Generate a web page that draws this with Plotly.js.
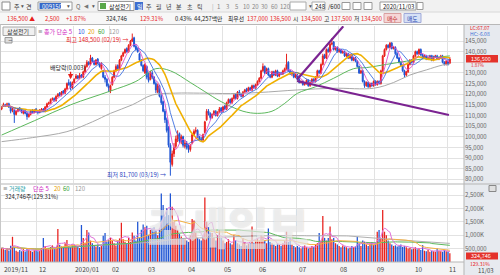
<!DOCTYPE html>
<html><head><meta charset="utf-8">
<script src="https://cdn.plot.ly/plotly-3.0.1.min.js"></script>
<style>html,body{margin:0;padding:0;background:#fff;}#chart{width:500px;height:275px;}</style>
</head><body><div id="chart"></div>
<script>
// ---------------- DATA (prices in thousand won, volume in thousand shares) ----------------
const monthLabels = ["2019/11","12","2020/01","02","03","04","05","06","07","08","09","10","11"];
const monthDays   = [20,20,20,20,22,20,19,22,23,20,21,19,2];

const openK = [
113,114.5,115,114.5,115.5,114,112.5,112.5,110.5,112,113.5,112.5,111,112,111,109.5,110.5,112.5,111.5,113,
112,111.5,112.5,113,112,114,115.5,116,117.5,118,117,119,120.5,119.5,121.5,120.5,122.5,125.5,125,123,
125.5,127.5,128.5,127.5,129,128,130.5,133,135,134,137,135.5,134,136.5,134.5,132,131,128,127,124,
121.5,124.5,128,131,133.5,132,136,138,139.5,141.5,140,143,145,146.5,142.5,141,139,136,133.5,130,
133,128,127,130,128,125,121,124,119,116.5,112,108,104,96,87,92,95.5,99,101.5,97.5,100,95.5,
97,95.5,94,97,101,102.5,103,100,99,98.5,102,108,112,111,109,110.5,112,110,111.5,113.5,
112,114.5,113,116,117.5,116,118,120,118,121,120,119,121,122.5,121.5,123,122,124,123,
124.5,126,127.5,131,133,130,132,129,128,130.5,129,131,128.5,130,129.5,131,132,135,131,129.5,130,128,
129,127,125.5,126,124.5,125,126.5,124,125.5,127,126,128,131,130,134,138.5,137,141,140,143.5,144.5,141,142,
140,141,139.5,140,138,139,137,138.5,136,137,135.5,133,130,131,126,124,125.5,123.5,125,124,
126,124.5,126,125,131,138,141,143,142,144,141.5,142,139,137,135,133.5,131,129,130.5,134,136,
135,138,140,139,141,138.5,137,138,136.5,137,138,136,137.5,138,136.5,137,138,135,134,
135.5,134.5];
const highK = [
114.5,116,115.5,116,116,114.5,113.5,113,112.5,113.5,114,113,112.5,112.5,111.5,111,112.5,113,113,113.5,
112.5,113,113.5,113.5,114.5,116,116.5,118,118.5,118.5,119.5,120.5,121,121.5,122,123,125.5,127,126,126,
127.5,129.5,129,130,129.5,131,134,136,135.5,138.5,137.5,136,136.5,137,135,135,131.5,129,127.5,125,
124.5,128.5,131.5,134,134,136.5,138.5,140,141.5,142,143.5,145.5,148.5,147,143.5,142,139.5,136.5,134,134.5,
133.5,130,131,131,128.5,126,125,124.5,120,117,113,109,105,97,93.5,97,100.5,103,102,101,100.5,98.5,
98,96.5,96.5,101.5,103.5,104.5,103.5,100.5,100,101.5,107.5,113,113,111.5,111,112.5,112.5,112,114,114,
114.5,115,116.5,118,118,118.5,120,120.5,121.5,122,120.5,121.5,122.5,123,123.5,123.5,124.5,124.5,125,
126.5,128,131.5,134.5,133.5,132.5,132.5,129.5,131,131,131.5,131.5,130.5,130.5,131.5,132.5,139,135.5,131.5,130.5,130.5,129.5,
129.5,127.5,126.5,126.5,125.5,127,127,126,127.5,127.5,128.5,131.5,131.5,134.5,139,139,141.5,142,144,146.4,145,142.5,142.5,
141.5,141.5,140.5,140.5,139.5,139.5,139,139,137.5,137.5,136,133.5,131.5,131.5,126.5,126,126,125.5,125.5,126.5,
126.5,126.5,126.5,131.5,138.5,141.5,143.5,143.5,144.5,144.5,142.5,142.5,139.5,137.5,135.5,134,131.5,131,134.5,136.5,136.5,
138.5,140.5,140.5,141.5,141.5,139,138.5,138.5,137.5,138.5,138.5,138,138.5,138.5,137.5,138.5,138.5,135.5,136,
136,137.5];
const lowK = [
112.5,114,114,114,113.5,111,111.5,106.5,110,111.5,112,111,110.5,110.5,108,109,110,111,111,111.5,
110.5,111,112,111.5,111.5,113.5,115,115.5,117,116.5,116.5,118.5,119,119,120,120,122,124,122,122.5,
125,127,127,127,127.5,127.5,130,132.5,133.5,133.5,135,133.5,133.5,134,132.5,131.5,127.5,125.5,123.5,121,
120.5,124,127.5,130.5,131,131.5,135.5,137.5,139,139.5,139.5,142.5,144.5,142,140.5,139.5,135.5,133,130.5,129.5,
127,125.5,126.5,127,124.5,120.5,120.5,118.5,115,111.5,106.5,102,95,81.7,86,90.5,94.5,97.5,97,96.5,95,94.5,
94,92.5,93,96.5,100.5,101.5,99.5,98,97.5,98,101.5,107.5,110,108,108.5,110,109.5,109.5,111,111,
111.5,112.5,112.5,115.5,115.5,115.5,117.5,117.5,117.5,119.5,118.5,118.5,120.5,121,121,121.5,121.5,122.5,122.5,
124,125.5,127,130.5,129.5,129.5,128.5,127.5,127.5,128.5,128.5,128,128,129,129,130.5,131.5,130.5,129,128.5,127.5,127.5,
126.5,125,125,124,124,124.5,123.5,123.5,125,125.5,125.5,127.5,129.5,129.5,133.5,136.5,136.5,139.5,139.5,143,140.5,140.5,139.5,
139.5,139,139,137.5,137.5,136.5,136.5,135.5,135.5,135,132.5,129.5,129.5,125.5,123,123.5,123,123,123.5,123.5,
124,124,124.5,124.5,130.5,137.5,140.5,141.5,141.5,141,141,138.5,136.5,134.5,133,130.5,128,128.5,130,133.5,134.5,
134.5,137.5,138.5,138.5,138,136.5,136.5,136,136,136.5,135.5,135.5,137,136,136,136.5,134.5,133.5,133.5,
133.5,134.5];
const closeK = [
114,115,114.5,115.5,114,112,113,110.5,112,113,112.5,111.5,112,111,109.5,110.5,112,111.5,112.5,112,
111.5,112.5,113,112,114,115.5,116,117.5,118,117,119,120,119.5,121,120.5,122.5,125,124.5,123,125.5,
127,128.5,127.5,129,128,130.5,133,135,134,137,135.5,134,136,134.5,133,134,128,127,124,123,
124,128,131,133,132,136,138,139.5,141,140,143,145,146,142.5,141,140,136,133.5,131,134,
128,126.5,130,128,125,122,124,119,116,112,108,103,96,88,92,95,99,101,98,100,96,97,
95,94,96,101,102.5,103,100,99,98.5,101,107,112,111,109,110.5,112,110,111.5,113,112,
114,113,116,117.5,116,118,119.5,118,121,120,119,121,122,121.5,123,122,124,123,124.5,
126,127.5,131,133,130,132,129,128,130.5,129,131,128.5,130,129.5,131,132,134,131,129.5,130,128,129,
127,125.5,126,124.5,125,126.5,124,125.5,127,126,128,131,130,134,138,137,141,140,143.5,144,141,142,140,
141,139.5,140,138,139,137,138.5,136,137,135.5,133,130,131,126,124,125.5,123.5,125,124,126,
124.5,126,125,131,138,141,143,142,144,141.5,142,139,137,135,133.5,131,129,130.5,134,136,135,
138,140,139,141,138.5,137,138,136.5,137,138,136,137.5,138,136.5,137,138,135,134,135.5,
134,136.5];
const volumeK = [
520,480,450,500,430,610,940,560,420,380,450,400,480,390,520,470,410,380,440,460,
400,420,520,895,600,520,480,560,620,500,540,1230,640,580,520,700,820,600,560,650,
640,560,600,520,1380,900,720,1190,1100,800,700,620,580,650,560,600,980,1080,760,820,
900,780,700,620,800,880,1466,850,760,700,900,750,1100,980,800,1500,900,1200,1400,1300,
1350,1000,1200,1250,1300,1190,1000,1250,2560,2125,1700,2010,1750,2560,2060,1500,1350,1200,1050,950,880,850,
800,750,1000,1600,1550,1100,900,850,800,1000,2410,1500,1300,1100,1080,900,800,1000,1190,900,
800,700,750,850,700,650,1000,800,700,650,600,900,750,620,680,700,1320,720,800,
900,800,1000,950,800,700,1250,750,700,650,600,700,650,600,700,800,1130,750,900,650,600,550,
600,550,500,580,620,550,500,520,600,560,650,700,1080,800,1715,900,800,900,1320,850,900,700,650,
600,550,620,580,550,500,520,600,560,580,940,700,600,800,750,650,600,700,750,650,
700,1130,1190,900,1940,1130,1000,800,700,650,600,620,580,600,650,560,600,550,500,520,480,
500,550,480,520,450,630,420,400,450,380,420,400,380,500,420,400,380,450,400,
380,324.746];

// long moving averages (candle index, value)
const ma60Idx = [0,18,38,60,74,85,93,104,112,121,133,141,149,156,163,173,183,194,201,212,223,236,247];
const ma60Val = [100.8,107.5,115,121.5,126,132,131,125.5,121.2,116.5,112,111,112,115.7,120.4,123.5,127.5,132,132.5,134,135.5,137,138];
const ma120Idx = [0,17,36,50,60,72,83,96,109,126,142,163,183,205,216,225,234,243,247];
const ma120Val = [97.7,99.6,102.4,107,111,115,119.6,120.5,120.5,120.3,120.8,122,122.8,122.8,125.5,129,131.4,133.7,134.2];

// user-drawn trend lines (candle index, price)
const trendUpIdx = [162.8,188.3];
const trendUpVal = [126.9,151.9];
const trendDnIdx = [162.8,246.5];
const trendDnVal = [126.2,110.2];

const priceTicks = [80,85,90,95,100,105,110,115,120,125,130,135,140,145];
const volTicks = [500,1000,1500,2000,2500];
const volTickText = ["500,000","1,000K","1,500K","2,000K","2,500K"];

// ---------------- BUILD ----------------
const idx = closeK.map((_, i) => i);
const sma = (arr, w) => arr.map((_, i) => { const s = Math.max(0, i - w + 1); let t = 0; for (let k = s; k <= i; k++) t += arr[k]; return t / (i - s + 1); });

const RED = '#e8211d', BLUE = '#1f55d4';
const FONT = '"Noto Sans CJK KR","Noto Sans",sans-serif';
const NARROW = '"DejaVu Sans",sans-serif';
const W = 500, H = 275, ML = 1, MR = 36, MT = 26, MB = 13;
const PW = W - ML - MR, PH = H - MT - MB;
const px = X => (X - ML) / PW;
const py = Y => (H - MB - Y) / PH;

const starts = []; let acc = 0; monthDays.forEach(d => { starts.push(acc); acc += d; });
const bounds = starts.slice(1).map(s => s - 0.5);

const traces = [];
traces.push({type:'candlestick', x: idx, open: openK, high: highK, low: lowK, close: closeK,
  xaxis:'x', yaxis:'y', whiskerwidth:0, hoverinfo:'skip', showlegend:false,
  increasing:{line:{color:RED,width:1}, fillcolor:RED}, decreasing:{line:{color:BLUE,width:1}, fillcolor:BLUE}});
const ln = (x, y, color, width, yaxis, shape) => ({type:'scatter', mode:'lines', x, y, xaxis:'x', yaxis,
  line:{color, width, shape: shape || 'linear', smoothing: 1}, hoverinfo:'skip', showlegend:false});
traces.push(ln(ma120Idx, ma120Val, '#a9a9a9', 1, 'y', 'spline'));
traces.push(ln(ma60Idx, ma60Val, '#5cb85c', 1, 'y', 'spline'));
traces.push(ln(idx, sma(closeK, 20), '#f0b000', 1.6, 'y'));
traces.push(ln(idx, sma(closeK, 10), '#4070e0', 0.9, 'y'));
traces.push(ln(idx, sma(closeK, 5), '#e050c8', 0.9, 'y'));
traces.push(ln(trendUpIdx, trendUpVal, '#7b2391', 2.2, 'y'));
traces.push(ln(trendDnIdx, trendDnVal, '#7b2391', 2.2, 'y'));

const volColors = closeK.map((c, i) => c >= openK[i] ? RED : BLUE);
traces.push({type:'bar', x: idx, y: volumeK, xaxis:'x', yaxis:'y2', marker:{color: volColors, line:{width:0}}, hoverinfo:'skip', showlegend:false});
traces.push(ln(idx, sma(volumeK, 120), '#b0b0b0', 1, 'y2'));
traces.push(ln(idx, sma(volumeK, 60), '#5cb85c', 1, 'y2'));
traces.push(ln(idx, sma(volumeK, 20), '#f5b041', 1, 'y2'));
traces.push(ln(idx, sma(volumeK, 5), '#e070d8', 1, 'y2'));

// ---------------- DECORATION ----------------
const shapes = [];
const rect = (X0, Y0, X1, Y1, fill, line, layer) => shapes.push({type:'rect', xref:'paper', yref:'paper',
  x0: px(X0), x1: px(X1), y0: py(Y1), y1: py(Y0), fillcolor: fill, line:{color: line || fill, width: line ? 1 : 0}, layer: layer || 'above'});
const hline = (X0, X1, Y, color) => shapes.push({type:'line', xref:'paper', yref:'paper', x0: px(X0), x1: px(X1), y0: py(Y), y1: py(Y), line:{color, width:1}, layer:'above'});
const vline = (X, Y0, Y1, color) => shapes.push({type:'line', xref:'paper', yref:'paper', x0: px(X), x1: px(X), y0: py(Y0), y1: py(Y1), line:{color, width:1}, layer:'above'});

// toolbar
rect(0, 0, 500, 12, '#f1f1f1', null, 'below');
rect(0, 12, 500, 24.5, '#f7f7f7', null, 'below');
hline(0, 500, 12, '#d8d8d8');
hline(0, 500, 24.5, '#b8b8b8');
rect(2, 2, 10, 10, '#ffffff', '#8a8a8a');
rect(38, 2, 72, 10, '#ffffff', '#9a9a9a');
rect(39.5, 3, 61, 9, '#3468c8');
rect(98, 1.5, 134, 10.5, '#ffffff', '#9a9a9a');
rect(100, 3, 106, 9, '#5aa84a');
rect(135, 2, 143, 10, '#3d6fd0');
rect(290, 2, 306, 10, '#ffffff', '#aaaaaa');
rect(312, 2, 325, 10, '#ffffff', '#aaaaaa');
rect(342, 2.5, 350, 9.5, '#ffffff', '#999999');
rect(353, 2.5, 361, 9.5, '#ffffff', '#999999');
rect(364, 2.5, 372, 9.5, '#ffffff', '#999999');
rect(380, 2, 416, 10, '#ffffff', '#999999');
rect(417, 2.5, 423, 9.5, '#ffffff', '#999999');
rect(384, 13.5, 401, 22.5, '#f6d6d6', '#d9a0a0');
rect(404, 13.5, 421, 22.5, '#d6e0f6', '#a0aad9');

// axis strips and borders
rect(464, 24.5, 500, 275, '#e7eaef', null, 'below');
rect(0, 262, 464, 275, '#f4f4f4', null, 'below');
hline(0, 500, 184, '#b5b5b5');
hline(0, 464, 262, '#b5b5b5');
vline(464, 24.5, 275, '#b5b5b5');
vline(0.5, 24.5, 262, '#c8c8c8');
// panel widgets
rect(3, 27, 35, 35.5, '#f0f0f0', '#a8a8a8');
rect(5, 37.5, 12, 43, '#dddddd', '#999999');
rect(466, 55, 498, 62.5, '#e4322b');
rect(466, 252.5, 498, 259.5, '#e4322b');
rect(489, 185.5, 496, 191.5, '#e0e0e0', '#888888');

const ann = [];
const T = (text, X, Y, color, size, extra) => ann.push(Object.assign({text, x: px(X), y: py(Y), xref:'paper', yref:'paper',
  xanchor:'left', yanchor:'middle', showarrow:false, borderpad:0, font:{family: FONT, size: size || 6, color: color || '#222'}}, extra || {}));
const Tn = (text, X, Y, color, size) => T(text, X, Y, color, size, {font:{family: NARROW, size: size || 5.5, color}});

// toolbar row 1
T('주', 12.5, 6, '#333'); Tn('▾', 19.5, 6, '#555'); T('견', 24.5, 6, '#333');
T('009150', 40.5, 6, '#ffffff'); Tn('▾', 65.5, 6, '#555'); T('Q', 75, 6, '#666');
Tn('◀', 83, 6, '#777'); Tn('▾', 91, 6, '#555');
T('삼성전기', 108, 6, '#222');
T('일', 136, 6, '#ffffff');
T('주', 145, 6, '#444'); T('월', 155, 6, '#444'); T('년', 165, 6, '#444');
T('분', 175, 6, '#444'); T('초', 185.5, 6, '#444'); T('틱', 196, 6, '#444');
T('|', 211, 6, '#aaa'); T('1', 216, 6, '#888'); T('3', 225, 6, '#888'); T('5', 234, 6, '#888');
T('10', 242, 6, '#888'); T('20', 250.5, 6, '#888'); T('30', 260, 6, '#888'); T('60', 269.5, 6, '#888');
T('120', 279, 6, '#888');
Tn('▾', 308, 6, '#555'); T('248', 313.5, 6, '#222'); T('/600', 326.5, 6, '#222');
T('2020/11/03', 382, 6, '#222');
// toolbar row 2
const R2 = 5.8;
T('136,500 ▲', 6, 18, RED, R2); T('2,500', 44, 18, RED, R2); T('+1.87%', 65, 18, RED, R2);
T('324,746', 105, 18, '#222', R2); T('129.31%', 139, 18, RED, R2); T('0.43%', 174, 18, '#222', R2);
T('44,257백만', 193, 18, '#222', R2); T('최우선', 226.5, 18, '#222', R2);
T('137,000', 245.5, 18, RED, R2); T('136,500', 268.5, 18, RED, R2);
T('시', 292, 18, '#222', R2); T('134,500', 299.5, 18, RED, R2);
T('고', 322.5, 18, '#222', R2); T('137,500', 329.5, 18, RED, R2);
T('저', 352.5, 18, '#222', R2); T('134,500', 359.5, 18, RED, R2);
T('매수', 386, 18, '#c02828', R2); T('매도', 406, 18, '#2848b0', R2);

// price panel legend & labels
T('삼성전기', 6, 31.2, '#333');
Tn('−', 6.5, 40.2, '#444');
Tn('≡', 37, 31, '#888');
T('종가 단순 5', 43, 31, '#d026c0'); T('10', 77, 31, '#2050e0'); T('20', 87, 31, '#e8a000');
T('60', 97, 31, '#2f9e2f'); T('120', 108, 31, '#9a9a9a');
T('최고 148,500 (02/19) →', 65, 39.2, RED);
T('배당락(0.003)', 49, 67.5, '#222');
ann.push({x: 38, y: 127, xref:'x', yref:'y', text:'', showarrow:true, arrowhead:2, arrowsize:0.8, arrowwidth:1.3, arrowcolor: RED, ax:0, ay:-9});
T('최저 81,700 (03/19) →', 106, 174.3, '#2a3fc0');
T('LC:67.07', 469, 27.3, RED, 5); T('HC:-6.08', 469, 33.4, '#3a6bd6', 5);
T('136,500', 470, 58.8, '#ffffff', 5.5); T('1.87%', 470, 65.4, RED, 4.5);

// volume panel
Tn('≡', 1.5, 188.3, '#888');
T('거래량', 7.5, 188.3, '#2aa0a8'); T('단순 5', 31.5, 188.3, '#d026c0'); T('20', 53, 188.3, '#e8a000');
T('60', 62, 188.3, '#2f9e2f'); T('120', 73.5, 188.3, '#9a9a9a');
T('324,746주(129.31%)', 4, 196, '#222', 5.8);
T('324,746', 470, 255.8, '#ffffff', 5.5); T('129.31%', 469, 263, RED, 5);
T('11/03', 477.5, 270, '#444', 6);
ann.push({text:'조세일보', x: px(228), y: py(226), xref:'paper', yref:'paper', xanchor:'center', yanchor:'middle', showarrow:false,
  font:{family: FONT, size: 44, color:'rgba(255,255,255,0.6)', weight: 900, shadow:'0 0 1px rgba(90,90,90,0.45)'}});

// month labels
monthLabels.forEach((lab, i) => {
  ann.push({text: lab, x: i === 0 ? -0.33 : bounds[i - 1], xref:'x', y: py(268.5), yref:'paper', xanchor:'left', yanchor:'middle',
    xshift: i === 0 ? 2 : 1, showarrow:false, borderpad:0, font:{family: FONT, size: 6.5, color:'#444'}});
});

const layout = {
  width: W, height: H, margin:{l: ML, r: MR, t: MT, b: MB, pad: 0},
  paper_bgcolor:'#ffffff', plot_bgcolor:'#ffffff', showlegend:false, bargap: 0.3, boxgap: 0.25,
  xaxis:{domain:[0,1], range:[-0.33, 254.8], anchor:'y2', tickvals: bounds, showticklabels:false, ticks:'',
    showgrid:true, gridcolor:'#e2e2e2', gridwidth:1, zeroline:false, showline:false, rangeslider:{visible:false}, fixedrange:true},
  yaxis:{domain:[py(183), 1], range:[78.27, 152.05], side:'right', anchor:'x', tickvals: priceTicks,
    ticktext: priceTicks.map(v => v === 135 ? '' : (v * 1000).toLocaleString('en-US')),
    tickfont:{family: FONT, size: 6, color:'#666'}, ticks:'', showgrid:true, gridcolor:'#e2e2e2',
    zeroline:false, showline:false, fixedrange:true},
  yaxis2:{domain:[0, py(185)], range:[0, 2873], side:'right', anchor:'x', tickvals: volTicks, ticktext: volTickText,
    tickfont:{family: FONT, size: 6, color:'#666'}, ticks:'', showgrid:true, gridcolor:'#e2e2e2',
    zeroline:false, showline:false, fixedrange:true},
  shapes, annotations: ann
};

Plotly.newPlot('chart', traces, layout, {displayModeBar:false, staticPlot:true});
</script></body></html>
